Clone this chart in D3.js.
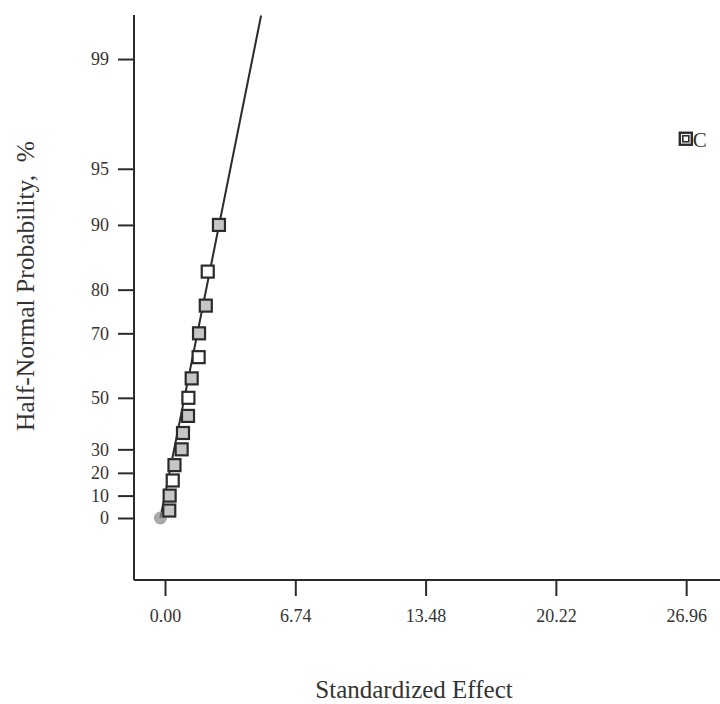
<!DOCTYPE html>
<html>
<head>
<meta charset="utf-8">
<script src="https://cdn.jsdelivr.net/npm/d3@7"></script>
<style>
  body { margin: 0; background: #fff; }
  svg { display: block; }
  text { font-family: "Liberation Serif", "Times New Roman", serif; fill: #333; }
</style>
</head>
<body>
<svg id="chart" width="720" height="704"></svg>
<script>
// standardized effects, sorted, with their half-normal probability (%)
var effects = [0.22, 0.24, 0.40, 0.49, 0.86, 0.93, 1.19, 1.21, 1.38, 1.74, 1.76, 2.11, 2.21, 2.79];
var probs   = [3.33, 10, 16.67, 23.33, 30, 36.67, 43.33, 50, 56.67, 63.33, 70, 76.67, 83.33, 90];
var shaded  = [true, true, false, true, true, true, true, false, true, false, true, true, false, true];

// the large effect, labelled
var bigEffect = { label: "C", effect: 26.94, prob: 96.67 };

// error marker near the origin
var errEffect = [-0.24];
var errProb = [0];

// fitted line through the small effects
var lineEffect = [-0.24, 4.97];
var lineProb = [0, 99.52];

var xTicks = [0, 6.74, 13.48, 20.22, 26.96];
var yTicks = [0, 10, 20, 30, 50, 70, 80, 90, 95, 99];

// inverse normal cdf (Acklam)
function probit(p) {
  var a = [-3.969683028665376e+01, 2.209460984245205e+02, -2.759285104469687e+02, 1.383577518672690e+02, -3.066479806614716e+01, 2.506628277459239e+00],
      b = [-5.447609879822406e+01, 1.615858368580409e+02, -1.556989798598866e+02, 6.680131188771972e+01, -1.328068155288572e+01],
      c = [-7.784894002430293e-03, -3.223964580411365e-01, -2.400758277161838e+00, -2.549732539343734e+00, 4.374664141464968e+00, 2.938163982698783e+00],
      d = [7.784695709041462e-03, 3.224671290700398e-01, 2.445134137142996e+00, 3.754408661907416e+00];
  var q, r;
  if (p < 0.02425) {
    q = Math.sqrt(-2 * Math.log(p));
    return (((((c[0]*q+c[1])*q+c[2])*q+c[3])*q+c[4])*q+c[5]) / ((((d[0]*q+d[1])*q+d[2])*q+d[3])*q+1);
  }
  if (p > 1 - 0.02425) {
    q = Math.sqrt(-2 * Math.log(1 - p));
    return -(((((c[0]*q+c[1])*q+c[2])*q+c[3])*q+c[4])*q+c[5]) / ((((d[0]*q+d[1])*q+d[2])*q+d[3])*q+1);
  }
  q = p - 0.5; r = q * q;
  return (((((a[0]*r+a[1])*r+a[2])*r+a[3])*r+a[4])*r+a[5])*q / (((((b[0]*r+b[1])*r+b[2])*r+b[3])*r+b[4])*r+1);
}
// half-normal: percent -> z
function hn(pct) { return probit(0.5 + pct / 200); }

var svg = d3.select("#chart");
var mLeft = 134, mRight = 720, mTop = 15, mBottom = 580;

var x = d3.scaleLinear().domain([-1.604, 28.71]).range([mLeft, mRight]);
var zScale = d3.scaleLinear().domain([-0.348, 2.823]).range([mBottom, mTop]);
var y = function(pct) { return zScale(hn(pct)); };

// axes
var xAxis = d3.axisBottom(x).tickValues(xTicks).tickFormat(d3.format(".2f"))
  .tickSize(16).tickPadding(10);
var gx = svg.append("g").attr("transform", "translate(0," + mBottom + ")").call(xAxis);
gx.select(".domain").attr("d", "M" + mLeft + ",0H" + mRight);

var yAxis = d3.axisLeft(zScale).tickValues(yTicks.map(hn))
  .tickFormat(function(z, i) { return yTicks[i]; })
  .tickSize(16).tickPadding(9);
var gy = svg.append("g").attr("transform", "translate(" + mLeft + ",0)").call(yAxis);
gy.select(".domain").attr("d", "M0," + mTop + "V" + mBottom);

svg.selectAll(".domain, .tick line").attr("stroke", "#2b2b2b").attr("stroke-width", 2);
svg.selectAll(".tick text").attr("font-size", 18)
  .style("font-family", "'Liberation Serif', serif").attr("fill", "#333");
gx.selectAll(".tick text").attr("dy", "0.9em");

// titles
svg.append("text")
  .attr("x", 414).attr("y", 698)
  .attr("text-anchor", "middle")
  .attr("font-size", 25)
  .text("Standardized Effect");

svg.append("text")
  .attr("transform", "translate(34,286) rotate(-90)")
  .attr("text-anchor", "middle")
  .attr("font-size", 25.5)
  .attr("xml:space", "preserve")
  .text("Half-Normal Probability,  %");

// fitted line
svg.append("path")
  .datum(d3.zip(lineEffect, lineProb))
  .attr("d", d3.line().x(function(d) { return x(d[0]); }).y(function(d) { return y(d[1]); }))
  .attr("stroke", "#2b2b2b").attr("stroke-width", 2).attr("fill", "none");

// error marker
svg.selectAll(".err")
  .data(d3.zip(errEffect, errProb))
  .join("circle")
  .attr("class", "err")
  .attr("cx", function(d) { return x(d[0]); })
  .attr("cy", function(d) { return y(d[1]); })
  .attr("r", 6.5)
  .attr("fill", "#8c8c8c").attr("opacity", 0.75);

// effect squares
var s = 12;
svg.selectAll(".pt")
  .data(d3.range(effects.length))
  .join("rect")
  .attr("class", "pt")
  .attr("x", function(i) { return x(effects[i]) - s / 2; })
  .attr("y", function(i) { return y(probs[i]) - s / 2; })
  .attr("width", s).attr("height", s)
  .attr("fill", function(i) { return shaded[i] ? "#c6c6c6" : "#fff"; })
  .attr("stroke", "#2b2b2b").attr("stroke-width", 2.2);

// big effect C: double square
var cx = x(bigEffect.effect), cy = y(bigEffect.prob);
svg.append("rect")
  .attr("x", cx - 6).attr("y", cy - 6).attr("width", 12).attr("height", 12)
  .attr("fill", "#fff").attr("stroke", "#2b2b2b").attr("stroke-width", 2.4);
svg.append("rect")
  .attr("x", cx - 3).attr("y", cy - 3).attr("width", 6).attr("height", 6)
  .attr("fill", "#fff").attr("stroke", "#2b2b2b").attr("stroke-width", 1.6);
svg.append("text")
  .attr("x", cx + 7).attr("y", cy + 8)
  .attr("font-size", 21)
  .text(bigEffect.label);
</script>
</body>
</html>
